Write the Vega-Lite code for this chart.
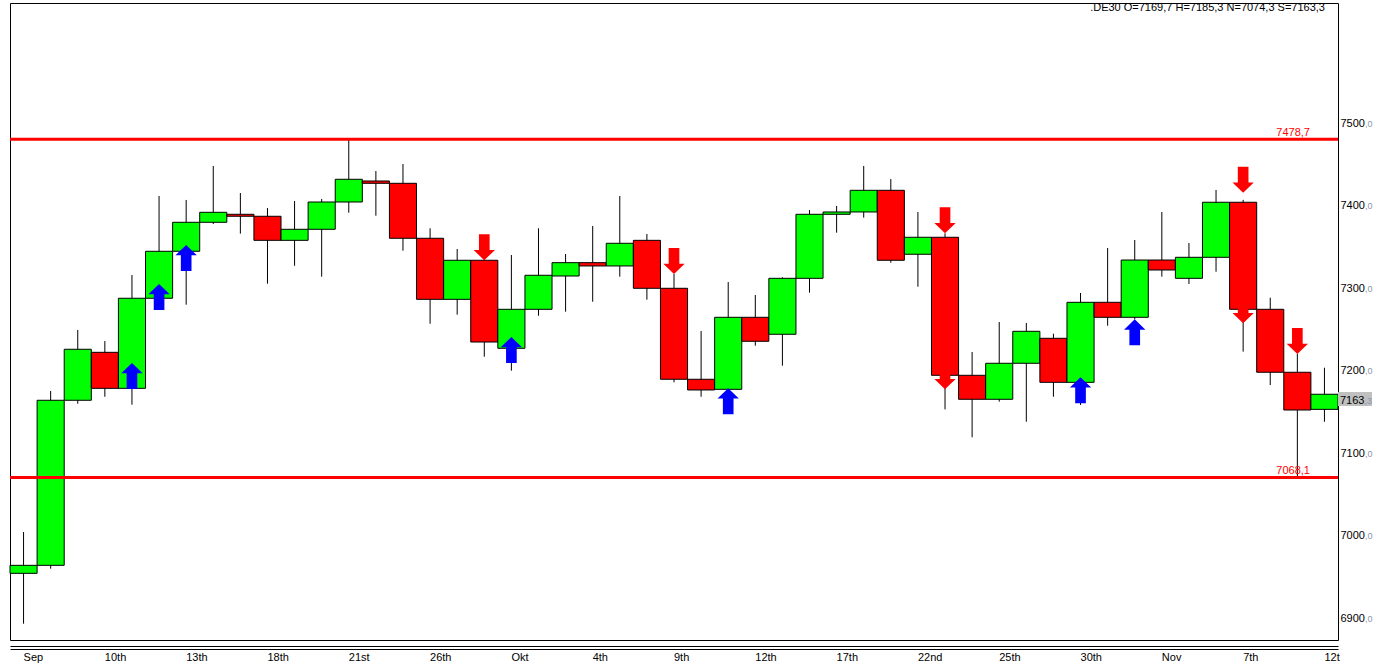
{
  "$schema": "https://vega.github.io/schema/vega-lite/v6.json",
  "width": 1328,
  "height": 637,
  "autosize": {"type": "none"},
  "padding": {"left": 10, "top": 3, "right": 39, "bottom": 25},
  "background": "white",
  "title": {
    "text": ".DE30 O=7169,7 H=7185,3 N=7074,3 S=7163,3",
    "anchor": "end",
    "orient": "top",
    "frame": "group",
    "offset": -9,
    "dx": -13,
    "dy": 10,
    "baseline": "alphabetic",
    "font": "Liberation Sans",
    "fontSize": 11,
    "fontWeight": "normal",
    "color": "black"
  },
  "config": {
    "locale": {"number": {"decimal": ",", "thousands": ".", "grouping": [3], "currency": ["", " €"]}},
    "view": {"stroke": "black", "strokeWidth": 1},
    "font": "Liberation Sans",
    "axis": {"labelFont": "Liberation Sans", "labelFontSize": 11, "labelColor": "black", "grid": false, "ticks": false, "tickSize": 0}
  },
  "datasets": {
    "ohlc": [
      {"date": "2012-09-05", "open": 6951.8, "high": 7001.9, "low": 6890.7, "close": 6961.5},
      {"date": "2012-09-06", "open": 6961.5, "high": 7173.1, "low": 6957.4, "close": 7161.8},
      {"date": "2012-09-07", "open": 7161.8, "high": 7247.1, "low": 7157.6, "close": 7223.7},
      {"date": "2012-09-10", "open": 7220.0, "high": 7233.7, "low": 7166.1, "close": 7176.3},
      {"date": "2012-09-11", "open": 7176.3, "high": 7313.8, "low": 7156.4, "close": 7285.6},
      {"date": "2012-09-12", "open": 7285.6, "high": 7409.7, "low": 7281.0, "close": 7342.6},
      {"date": "2012-09-13", "open": 7342.6, "high": 7404.9, "low": 7277.8, "close": 7377.8},
      {"date": "2012-09-14", "open": 7377.8, "high": 7446.1, "low": 7375.7, "close": 7389.9},
      {"date": "2012-09-17", "open": 7387.5, "high": 7413.3, "low": 7364.0, "close": 7385.1},
      {"date": "2012-09-18", "open": 7385.1, "high": 7395.1, "low": 7303.3, "close": 7355.9},
      {"date": "2012-09-19", "open": 7355.9, "high": 7403.6, "low": 7325.1, "close": 7369.3},
      {"date": "2012-09-20", "open": 7369.3, "high": 7406.1, "low": 7311.8, "close": 7402.4},
      {"date": "2012-09-21", "open": 7402.4, "high": 7478.7, "low": 7389.4, "close": 7430.0},
      {"date": "2012-09-24", "open": 7427.9, "high": 7440.0, "low": 7385.8, "close": 7425.1},
      {"date": "2012-09-25", "open": 7425.1, "high": 7448.5, "low": 7343.3, "close": 7358.4},
      {"date": "2012-09-26", "open": 7358.4, "high": 7370.5, "low": 7254.7, "close": 7284.3},
      {"date": "2012-09-27", "open": 7284.3, "high": 7345.4, "low": 7265.7, "close": 7331.7},
      {"date": "2012-09-28", "open": 7331.7, "high": 7334.0, "low": 7214.7, "close": 7232.5},
      {"date": "2012-10-01", "open": 7224.9, "high": 7338.1, "low": 7197.7, "close": 7272.2},
      {"date": "2012-10-02", "open": 7272.2, "high": 7370.5, "low": 7264.4, "close": 7313.5},
      {"date": "2012-10-03", "open": 7312.6, "high": 7339.3, "low": 7269.3, "close": 7328.8},
      {"date": "2012-10-04", "open": 7328.8, "high": 7373.3, "low": 7281.4, "close": 7324.8},
      {"date": "2012-10-05", "open": 7324.8, "high": 7409.7, "low": 7311.8, "close": 7352.3},
      {"date": "2012-10-08", "open": 7355.9, "high": 7363.6, "low": 7283.9, "close": 7297.7},
      {"date": "2012-10-09", "open": 7297.7, "high": 7315.0, "low": 7183.6, "close": 7187.3},
      {"date": "2012-10-10", "open": 7187.3, "high": 7245.9, "low": 7166.1, "close": 7174.3},
      {"date": "2012-10-11", "open": 7175.1, "high": 7305.3, "low": 7172.0, "close": 7262.5},
      {"date": "2012-10-12", "open": 7262.5, "high": 7289.6, "low": 7228.0, "close": 7233.4},
      {"date": "2012-10-15", "open": 7241.9, "high": 7311.0, "low": 7203.8, "close": 7309.8},
      {"date": "2012-10-16", "open": 7309.8, "high": 7392.7, "low": 7292.4, "close": 7387.5},
      {"date": "2012-10-17", "open": 7387.5, "high": 7397.6, "low": 7365.2, "close": 7390.3},
      {"date": "2012-10-18", "open": 7390.3, "high": 7446.1, "low": 7383.4, "close": 7416.6},
      {"date": "2012-10-19", "open": 7416.6, "high": 7430.3, "low": 7328.8, "close": 7331.7},
      {"date": "2012-10-22", "open": 7339.0, "high": 7390.3, "low": 7299.6, "close": 7359.6},
      {"date": "2012-10-23", "open": 7359.6, "high": 7364.4, "low": 7150.8, "close": 7192.1},
      {"date": "2012-10-24", "open": 7192.1, "high": 7220.4, "low": 7116.9, "close": 7163.0},
      {"date": "2012-10-25", "open": 7163.0, "high": 7256.8, "low": 7160.1, "close": 7206.7},
      {"date": "2012-10-26", "open": 7206.7, "high": 7255.6, "low": 7135.8, "close": 7245.5},
      {"date": "2012-10-29", "open": 7237.0, "high": 7242.6, "low": 7166.1, "close": 7183.6},
      {"date": "2012-10-30", "open": 7183.6, "high": 7292.0, "low": 7156.1, "close": 7280.7},
      {"date": "2012-10-31", "open": 7280.7, "high": 7346.6, "low": 7252.3, "close": 7262.5},
      {"date": "2012-11-01", "open": 7262.5, "high": 7356.3, "low": 7260.0, "close": 7332.0},
      {"date": "2012-11-02", "open": 7332.0, "high": 7390.3, "low": 7311.8, "close": 7319.9},
      {"date": "2012-11-05", "open": 7309.8, "high": 7352.7, "low": 7302.9, "close": 7335.3},
      {"date": "2012-11-06", "open": 7335.3, "high": 7417.0, "low": 7317.8, "close": 7402.1},
      {"date": "2012-11-07", "open": 7402.1, "high": 7405.0, "low": 7220.8, "close": 7272.2},
      {"date": "2012-11-08", "open": 7272.2, "high": 7286.3, "low": 7180.3, "close": 7195.8},
      {"date": "2012-11-09", "open": 7195.8, "high": 7218.0, "low": 7068.1, "close": 7150.0},
      {"date": "2012-11-12", "open": 7150.8, "high": 7201.3, "low": 7135.8, "close": 7169.1}
    ],
    "signals": [
      {"date": "2012-09-11", "dir": "buy", "price": 7207.0},
      {"date": "2012-09-12", "dir": "buy", "price": 7302.9},
      {"date": "2012-09-13", "dir": "buy", "price": 7350.2},
      {"date": "2012-09-28", "dir": "sell", "price": 7331.7},
      {"date": "2012-10-01", "dir": "buy", "price": 7238.6},
      {"date": "2012-10-09", "dir": "sell", "price": 7315.0},
      {"date": "2012-10-11", "dir": "buy", "price": 7176.5},
      {"date": "2012-10-23", "dir": "sell", "price": 7364.4},
      {"date": "2012-10-23", "dir": "sell", "price": 7175.1},
      {"date": "2012-10-30", "dir": "buy", "price": 7189.7},
      {"date": "2012-11-01", "dir": "buy", "price": 7260.0},
      {"date": "2012-11-07", "dir": "sell", "price": 7413.7},
      {"date": "2012-11-07", "dir": "sell", "price": 7255.2},
      {"date": "2012-11-09", "dir": "sell", "price": 7218.0}
    ],
    "levels": [
      {"level": 7478.7},
      {"level": 7068.1}
    ],
    "last": [
      {"date": "2012-11-12", "price": 7163.3}
    ]
  },
  "layer": [
    {
      "data": {"name": "ohlc"},
      "mark": {"type": "rule", "color": "black", "strokeWidth": 1},
      "encoding": {
        "x": {
          "field": "date", "type": "ordinal",
          "scale": {"type": "band", "paddingInner": 0, "paddingOuter": 0},
          "axis": {"orient": "bottom", "offset": 6, "labels": false, "ticks": false, "domain": true, "domainColor": "black", "domainWidth": 1, "title": null}
        },
        "y": {
          "field": "low", "type": "quantitative",
          "scale": {"domain": [6870.9, 7643.9], "nice": false, "zero": false},
          "axis": {"orient": "right", "values": [6900, 7000, 7100, 7200, 7300, 7400, 7500], "labelExpr": "slice(format(datum.value, '.1f'), -2)", "labelFontSize": 9, "labelColor": "#8a96aa", "labelBaseline": "alphabetic", "labelOffset": 5, "domain": false, "ticks": false, "labelPadding": 26.5, "title": null}
        },
        "y2": {"field": "high"}
      }
    },
    {
      "data": {"name": "ohlc"},
      "mark": {"type": "bar", "stroke": "black", "strokeWidth": 1},
      "encoding": {
        "x": {
          "field": "date", "type": "ordinal",
          "scale": {"type": "band", "paddingInner": 0, "paddingOuter": 0},
          "axis": {
            "orient": "bottom", "offset": 9, "domain": true, "domainColor": "black", "domainWidth": 1, "ticks": false,
            "labelAlign": "left", "labelAngle": 0, "labelPadding": 2, "labelBaseline": "top", "title": null,
            "values": ["2012-09-05", "2012-09-10", "2012-09-13", "2012-09-18", "2012-09-21", "2012-09-26", "2012-10-01", "2012-10-04", "2012-10-09", "2012-10-12", "2012-10-17", "2012-10-22", "2012-10-25", "2012-10-30", "2012-11-02", "2012-11-07", "2012-11-12"],
            "labelExpr": "['Sep','10th','13th','18th','21st','26th','Okt','4th','9th','12th','17th','22nd','25th','30th','Nov','7th','12t'][indexof(['2012-09-05','2012-09-10','2012-09-13','2012-09-18','2012-09-21','2012-09-26','2012-10-01','2012-10-04','2012-10-09','2012-10-12','2012-10-17','2012-10-22','2012-10-25','2012-10-30','2012-11-02','2012-11-07','2012-11-12'], datum.value)]"
          }
        },
        "y": {
          "field": "open", "type": "quantitative",
          "axis": {"orient": "right", "values": [6900, 7000, 7100, 7200, 7300, 7400, 7500], "format": ".0f", "labelColor": "black", "labelBaseline": "alphabetic", "labelOffset": 5, "domain": false, "ticks": false, "labelPadding": 2, "title": null}
        },
        "y2": {"field": "close"},
        "color": {"condition": {"test": "datum.open > datum.close", "value": "#FF0000"}, "value": "#00FF00"}
      }
    },
    {
      "data": {"name": "levels"},
      "mark": {"type": "rule", "color": "#FF0000", "strokeWidth": 3},
      "encoding": {
        "y": {"field": "level", "type": "quantitative", "axis": null}
      }
    },
    {
      "data": {"name": "levels"},
      "mark": {"type": "text", "color": "#FF0000", "align": "right", "baseline": "alphabetic", "dx": -28, "dy": -3, "fontSize": 11, "font": "Liberation Sans"},
      "encoding": {
        "x": {"value": "width"},
        "y": {"field": "level", "type": "quantitative", "axis": null},
        "text": {"field": "level", "type": "quantitative", "format": ".1f"}
      }
    },
    {
      "data": {"name": "signals"},
      "mark": {"type": "point", "filled": true, "opacity": 1, "strokeWidth": 0, "size": 676},
      "encoding": {
        "x": {"field": "date", "type": "ordinal", "scale": {"type": "band", "paddingInner": 0, "paddingOuter": 0}, "axis": null},
        "y": {"field": "price", "type": "quantitative", "axis": null},
        "shape": {
          "field": "dir", "type": "nominal", "legend": null,
          "scale": {"domain": ["buy", "sell"], "range": ["M0,0L0.82,0.79L0.41,0.79L0.41,2L-0.41,2L-0.41,0.79L-0.82,0.79Z", "M0,0L0.82,-0.79L0.41,-0.79L0.41,-2L-0.41,-2L-0.41,-0.79L-0.82,-0.79Z"]}
        },
        "color": {
          "field": "dir", "type": "nominal", "legend": null,
          "scale": {"domain": ["buy", "sell"], "range": ["#0000FF", "#FF0000"]}
        }
      }
    },
    {
      "data": {"name": "last"},
      "mark": {"type": "point", "filled": true, "opacity": 1, "strokeWidth": 0, "size": 1156, "color": "#c0c0c0", "shape": "M0,-0.41L2,-0.41L2,0.41L0,0.41Z"},
      "encoding": {
        "x": {"field": "date", "type": "ordinal", "bandPosition": 1, "scale": {"type": "band", "paddingInner": 0, "paddingOuter": 0}, "axis": null},
        "y": {"field": "price", "type": "quantitative", "axis": null}
      }
    },
    {
      "data": {"name": "last"},
      "mark": {"type": "text", "align": "left", "baseline": "alphabetic", "dx": 2, "dy": 5, "fontSize": 11, "font": "Liberation Sans", "color": "black"},
      "encoding": {
        "x": {"field": "date", "type": "ordinal", "bandPosition": 1, "scale": {"type": "band", "paddingInner": 0, "paddingOuter": 0}, "axis": null},
        "y": {"field": "price", "type": "quantitative", "axis": null},
        "text": {"field": "price", "type": "quantitative", "format": ".0f"}
      }
    },
    {
      "data": {"name": "last"},
      "mark": {"type": "text", "align": "left", "baseline": "alphabetic", "dx": 26.5, "dy": 5, "fontSize": 9, "font": "Liberation Sans", "color": "#8a96aa", "text": {"expr": "slice(format(datum.price, '.1f'), -2)"}},
      "encoding": {
        "x": {"field": "date", "type": "ordinal", "bandPosition": 1, "scale": {"type": "band", "paddingInner": 0, "paddingOuter": 0}, "axis": null},
        "y": {"field": "price", "type": "quantitative", "axis": null}
      }
    }
  ],
  "resolve": {"axis": {"x": "independent", "y": "independent"}}
}
